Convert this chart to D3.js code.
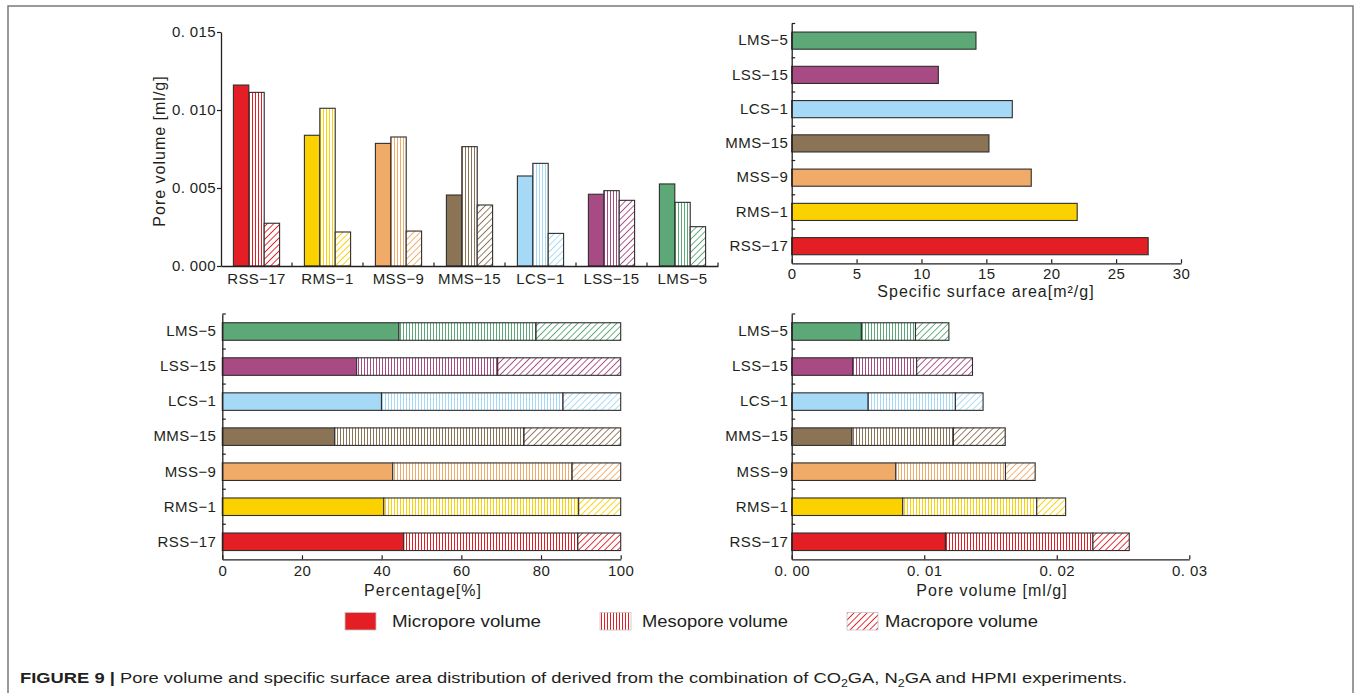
<!DOCTYPE html>
<html>
<head>
<meta charset="utf-8">
<script src="https://cdn.jsdelivr.net/npm/d3@7"></script>
<style>
  html, body { margin: 0; padding: 0; background: #fff; }
  svg { display: block; font-family: "Liberation Sans", Arial, Helvetica, sans-serif; }
</style>
</head>
<body>
<svg id="fig" width="1356" height="693"></svg>
<script>
// ---- data ----
const categories = ["RSS-17", "RMS-1", "MSS-9", "MMS-15", "LCS-1", "LSS-15", "LMS-5"];
const micropore = [0.01160, 0.00838, 0.00786, 0.00455, 0.00577, 0.00460, 0.00526]; // ml/g
const mesopore  = [0.01113, 0.01011, 0.00827, 0.00765, 0.00658, 0.00483, 0.00408]; // ml/g
const macropore = [0.00274, 0.00218, 0.00224, 0.00391, 0.00209, 0.00421, 0.00252]; // ml/g
const surfaceArea = [27.47, 22.0, 18.46, 15.2, 17.0, 11.3, 14.2];                   // m2/g
const sampleColors = ["#e31e25", "#fcd100", "#f1ab69", "#8b7356", "#a6d9f5", "#a84a84", "#5ca877"];
const seriesKeys = ["micro", "meso", "macro"];
const seriesNames = ["Micropore volume", "Mesopore volume", "Macropore volume"];
const poreTicks = [0, 0.005, 0.010, 0.015];
const areaTicks = [0, 5, 10, 15, 20, 25, 30];
const pctTicks = [0, 0.2, 0.4, 0.6, 0.8, 1];
const stackTicks = [0, 0.01, 0.02, 0.03];

const rows = categories.map((c, i) => ({
  cat: c, idx: i, micro: micropore[i], meso: mesopore[i], macro: macropore[i], area: surfaceArea[i]
}));

const ink = "#231f20";
const edge = "#2e2e2e";
const label = c => c.replace("-", "\u2212");
const svg = d3.select("#fig");

// ---- hatch patterns: vertical lines for mesopores, diagonal lines for macropores ----
const defs = svg.append("defs");
sampleColors.forEach((col, i) => {
  const pm = defs.append("pattern").attr("id", `meso-${i}`)
    .attr("patternUnits", "userSpaceOnUse").attr("width", 3).attr("height", 6);
  pm.append("rect").attr("width", 3).attr("height", 6).attr("fill", "#fff");
  pm.append("line").attr("x1", 1.5).attr("x2", 1.5).attr("y1", 0).attr("y2", 6)
    .attr("stroke", col).attr("stroke-width", 1);

  const pM = defs.append("pattern").attr("id", `macro-${i}`)
    .attr("patternUnits", "userSpaceOnUse").attr("width", 4.6).attr("height", 4.6)
    .attr("patternTransform", "rotate(45)");
  pM.append("rect").attr("width", 4.6).attr("height", 4.6).attr("fill", "#fff");
  pM.append("line").attr("x1", 2.3).attr("x2", 2.3).attr("y1", 0).attr("y2", 4.6)
    .attr("stroke", col).attr("stroke-width", 0.9);
});
const fillFor = (key, i) => key === "micro" ? sampleColors[i] : `url(#${key}-${i})`;

// ---- outer frame ----
svg.append("rect").attr("x", 8).attr("y", 6).attr("width", 1345).attr("height", 720)
  .attr("fill", "none").attr("stroke", "#7a7a7a").attr("stroke-width", 1.5);

function styleAxis(g) {
  g.attr("font-family", null).attr("font-size", null);
  g.select(".domain").attr("stroke", ink).attr("stroke-width", 1.3);
  g.selectAll(".tick line").attr("stroke", ink).attr("stroke-width", 1.2);
  g.selectAll(".tick text").attr("fill", ink)
    .style("font-size", "15px").style("letter-spacing", "0.4px");
}

function axisTitle(x, y, text, rotate) {
  return svg.append("text")
    .attr("transform", `translate(${x},${y})` + (rotate ? " rotate(-90)" : ""))
    .attr("text-anchor", "middle").attr("fill", ink)
    .style("font-size", "16px").style("letter-spacing", "1px")
    .text(text);
}

// ===== Panel 1: grouped pore volumes =====
const xTL = d3.scaleBand().domain(categories).range([221, 718]);
const xSub = d3.scaleBand().domain(seriesKeys).range([12.4, 58.6]);
const yTL = d3.scaleLinear().domain([0, 0.015]).range([266, 32]);

svg.append("g").selectAll("g.grp").data(rows).join("g")
  .attr("transform", d => `translate(${xTL(d.cat)},0)`)
  .selectAll("rect").data(d => seriesKeys.map(k => ({ key: k, v: d[k], idx: d.idx })))
  .join("rect")
  .attr("x", d => xSub(d.key))
  .attr("y", d => yTL(d.v))
  .attr("width", xSub.bandwidth())
  .attr("height", d => yTL(0) - yTL(d.v))
  .attr("fill", d => fillFor(d.key, d.idx))
  .attr("stroke", edge).attr("stroke-width", 1.1);

svg.append("g").attr("transform", "translate(221,0)")
  .call(d3.axisLeft(yTL).tickValues(poreTicks).tickSize(4).tickSizeOuter(0)
    .tickFormat(d => d3.format(".3f")(d).replace(".", ". ")))
  .call(styleAxis)
  .call(g => g.selectAll(".tick text").attr("x", -5));

svg.append("g").attr("transform", "translate(0,266)")
  .call(d3.axisBottom(xTL).tickSize(0).tickSizeOuter(0).tickFormat(label))
  .call(styleAxis)
  .call(g => g.selectAll(".tick text").attr("y", 17.5).attr("dy", null));

svg.append("g").selectAll("line").data(categories).join("line")
  .attr("x1", d => xTL(d) + xTL.step()).attr("x2", d => xTL(d) + xTL.step())
  .attr("y1", 266).attr("y2", 262.5)
  .attr("stroke", ink).attr("stroke-width", 1.2);

axisTitle(164.5, 151, "Pore volume [ml/g]", true);

// ===== Panel 2: specific surface area =====
const xTR = d3.scaleLinear().domain([0, 30]).range([791.7, 1181]);
const yTR = d3.scaleBand().domain(categories.slice().reverse()).range([23.5, 263.3])
  .paddingInner(0.5).paddingOuter(0.25);

svg.append("g").selectAll("rect").data(rows).join("rect")
  .attr("x", xTR(0))
  .attr("y", d => yTR(d.cat))
  .attr("width", d => xTR(d.area) - xTR(0))
  .attr("height", yTR.bandwidth())
  .attr("fill", d => sampleColors[d.idx])
  .attr("stroke", edge).attr("stroke-width", 1.1);

svg.append("g").attr("transform", "translate(0,263.3)")
  .call(d3.axisBottom(xTR).tickValues(areaTicks).tickSize(-4).tickSizeOuter(0))
  .call(styleAxis)
  .call(g => g.selectAll(".tick text").attr("y", 16.2).attr("dy", null));

svg.append("g").attr("transform", "translate(791.7,0)")
  .call(d3.axisLeft(yTR).tickSize(0).tickSizeOuter(0).tickFormat(label))
  .call(styleAxis)
  .call(g => g.selectAll(".tick text").attr("x", -3.5));

function bandBoundaryTicks(scale, x0) {
  const half = (scale.step() - scale.bandwidth()) / 2;
  svg.append("g").selectAll("line").data(scale.domain()).join("line")
    .attr("x1", x0).attr("x2", x0 + 3.5)
    .attr("y1", d => scale(d) - half).attr("y2", d => scale(d) - half)
    .attr("stroke", ink).attr("stroke-width", 1.2);
}
bandBoundaryTicks(yTR, 791.7);

axisTitle(986, 297, "Specific surface area[m\u00b2/g]", false);

// ===== Panels 3 & 4: stacked pore volumes =====
const yB = d3.scaleBand().domain(categories.slice().reverse()).range([314, 559.3])
  .paddingInner(0.5).paddingOuter(0.25);

function stackedPanel(xScale, offset, ticks, fmt, titleX, titleText) {
  const stacked = d3.stack().keys(seriesKeys).offset(offset)(rows);
  svg.append("g").selectAll("g.series").data(stacked).join("g")
    .selectAll("rect").data(s => s.map(seg => ({ seg, key: s.key })))
    .join("rect")
    .attr("x", d => xScale(d.seg[0]))
    .attr("y", d => yB(d.seg.data.cat))
    .attr("width", d => xScale(d.seg[1]) - xScale(d.seg[0]))
    .attr("height", yB.bandwidth())
    .attr("fill", d => fillFor(d.key, d.seg.data.idx))
    .attr("stroke", edge).attr("stroke-width", 1.1);

  const x0 = xScale.range()[0];
  svg.append("g").attr("transform", "translate(0,559.3)")
    .call(d3.axisBottom(xScale).tickValues(ticks).tickSize(-4).tickSizeOuter(0).tickFormat(fmt))
    .call(styleAxis)
    .call(a => a.selectAll(".tick text").attr("y", 17.2).attr("dy", null));

  svg.append("g").attr("transform", `translate(${x0},0)`)
    .call(d3.axisLeft(yB).tickSize(0).tickSizeOuter(0).tickFormat(label))
    .call(styleAxis)
    .call(a => a.selectAll(".tick text").attr("x", x0 < 500 ? -6 : -3.5));

  bandBoundaryTicks(yB, x0);
  axisTitle(titleX, 596, titleText, false);
}

stackedPanel(d3.scaleLinear().domain([0, 1]).range([222.3, 620.7]), d3.stackOffsetExpand,
  pctTicks, d => Math.round(d * 100), 423, "Percentage[%]");
stackedPanel(d3.scaleLinear().domain([0, 0.03]).range([791.7, 1189.3]), d3.stackOffsetNone,
  stackTicks, d => d3.format(".2f")(d).replace(".", ". "), 992, "Pore volume [ml/g]");

// ===== legend =====
const legendPos = [
  { sx: 345, tx: 392, w: 149 },
  { sx: 600, tx: 642, w: 146 },
  { sx: 847, tx: 885, w: 153 }
];
const lg = svg.append("g");
seriesKeys.forEach((k, j) => {
  lg.append("rect").attr("x", legendPos[j].sx).attr("y", 612.5)
    .attr("width", 31).attr("height", 17.5)
    .attr("fill", fillFor(k, 0))
    .attr("stroke", "#c4c4c4").attr("stroke-width", 0.8);
  lg.append("text").attr("x", legendPos[j].tx).attr("y", 627)
    .attr("fill", ink).style("font-size", "17px")
    .attr("textLength", legendPos[j].w).attr("lengthAdjust", "spacingAndGlyphs")
    .text(seriesNames[j]);
});

// ===== caption =====
const cap = svg.append("text").attr("x", 20).attr("y", 682.5)
  .attr("fill", ink).style("font-size", "15.5px")
  .attr("textLength", 1107).attr("lengthAdjust", "spacingAndGlyphs");
cap.append("tspan").style("font-weight", "bold").text("FIGURE 9 | ");
cap.append("tspan").text("Pore volume and specific surface area distribution of derived from the combination of CO");
cap.append("tspan").attr("dy", 4).style("font-size", "10.5px").text("2");
cap.append("tspan").attr("dy", -4).text("GA, N");
cap.append("tspan").attr("dy", 4).style("font-size", "10.5px").text("2");
cap.append("tspan").attr("dy", -4).text("GA and HPMI experiments.");
</script>
</body>
</html>
